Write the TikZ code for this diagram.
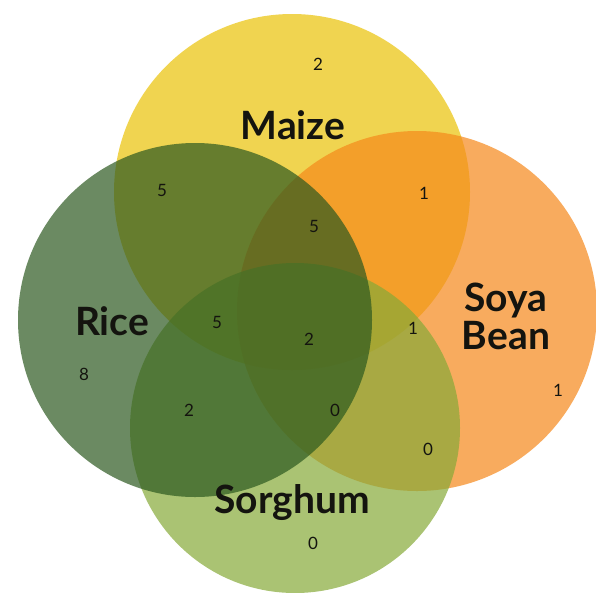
\documentclass[tikz,border=0pt]{standalone}
\usepackage{fontspec}
\setmainfont{Lato}
\definecolor{maizeC}{RGB}{234,194,5}
\definecolor{soyaC}{RGB}{245,136,26}
\definecolor{sorghumC}{RGB}{134,169,55}
\definecolor{riceC}{RGB}{44,89,31}
\definecolor{ink}{RGB}{20,20,15}
\tikzset{
  setc/.style={circle, inner sep=0pt, fill opacity=0.7, draw=none},
  biglabel/.style={font=\fontsize{39}{40}\selectfont\bfseries, text=ink, align=center, inner sep=0pt},
  count/.style={font=\fontsize{17}{18}\selectfont, text=ink, inner sep=0pt}
}
\begin{document}
\begin{tikzpicture}[x=1pt,y=1pt]
\useasboundingbox (0,0) rectangle (596,-592);
\node[setc, fill=maizeC, minimum size=356pt] (maize) at (292,-192) {};
\node[setc, fill=soyaC, minimum size=360pt] (soya) at (417,-311) {};
\node[setc, fill=sorghumC, minimum size=330pt] (sorghum) at (295,-428) {};
\node[setc, fill=riceC, minimum size=354pt] (rice) at (195,-320) {};
% set labels
\node[biglabel] (lmaize) at (293,-125) {Maize};
\node[biglabel] (lrice) at (112,-321) {Rice};
\node[biglabel, text width=110pt] (lsoya) at (506,-316) {Soya\\[-2pt]Bean};
\node[biglabel] (lsorghum) at (292,-503) {Sorghum};
% counts
\node[count] (n1) at (318,-64) {2};
\node[count] (n2) at (162,-190) {5};
\node[count] (n3) at (424,-193) {1};
\node[count] (n4) at (314,-226) {5};
\node[count] (n5) at (217,-322) {5};
\node[count] (n6) at (309,-339) {2};
\node[count] (n7) at (413,-328) {1};
\node[count] (n8) at (84,-374) {8};
\node[count] (n9) at (558,-390) {1};
\node[count] (n10) at (189,-410) {2};
\node[count] (n11) at (335,-410) {0};
\node[count] (n12) at (428,-449) {0};
\node[count] (n13) at (313,-543) {0};
\end{tikzpicture}
\end{document}
